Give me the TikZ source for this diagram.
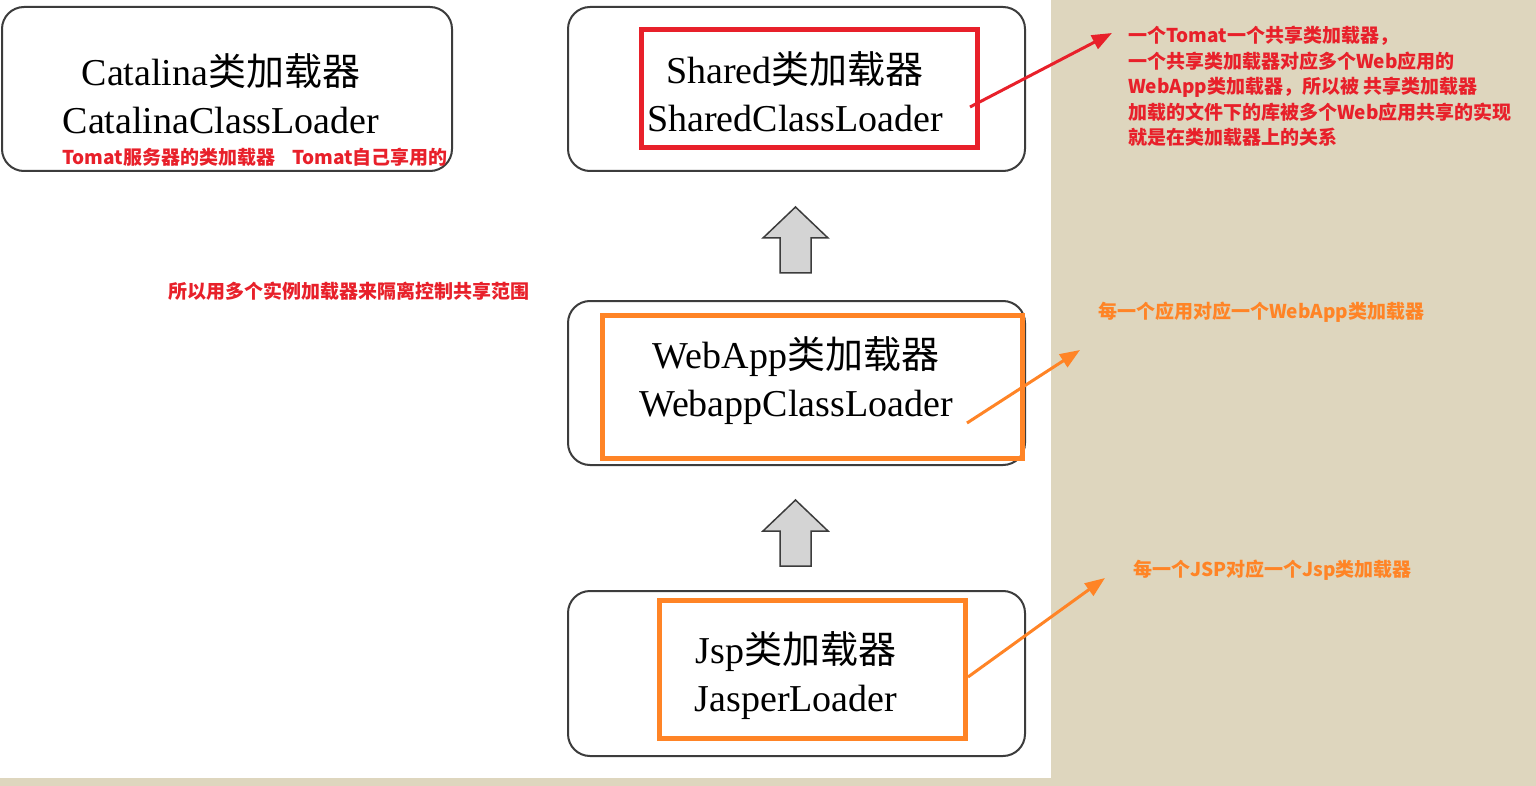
\documentclass[tikz,border=0pt]{standalone}
\usepackage{fontspec}
\setmainfont{Liberation Serif}
\newfontfamily\cjk{Noto Sans CJK SC}
\usetikzlibrary{arrows.meta}
\definecolor{beige}{HTML}{DED6BE}
\definecolor{annred}{HTML}{E8202A}
\definecolor{annorange}{HTML}{FF8426}
\definecolor{boxgray}{HTML}{3C3C3C}
\definecolor{arrowfill}{HTML}{D4D4D4}
\begin{document}
\begin{tikzpicture}[x=1pt,y=-1pt,
  graybox/.style={draw=boxgray, line width=2pt, rounded corners=22pt, fill=white, anchor=north west, inner sep=0pt},
  redframe/.style={draw=annred, line width=5pt, anchor=north west, inner sep=0pt},
  orangeframe/.style={draw=annorange, line width=5pt, anchor=north west, inner sep=0pt},
  mainlabel/.style={align=center, inner sep=0pt, font=\fontsize{38}{48}\selectfont},
  ann/.style={inner sep=0pt, font=\cjk\bfseries\fontsize{19}{25.5}\selectfont},
  blockarrow/.style={draw=boxgray, line width=1.5pt, fill=arrowfill, line join=miter},
  pointer/.style={line width=3pt, -{Triangle[length=20pt,width=15pt]}}
]
\useasboundingbox (0,0) rectangle (1536,786);
\fill[beige] (0,0) rectangle (1536,786);
\fill[white] (0,0) rectangle (1051,778);

% gray boxes
\node[graybox, minimum width=450pt, minimum height=164pt] (catalina) at (1,6) {};
\node[graybox, minimum width=457pt, minimum height=164pt] (shared) at (567,6) {};
\node[graybox, minimum width=457pt, minimum height=164pt] (webapp) at (567,300) {};
\node[graybox, minimum width=457pt, minimum height=165pt] (jsp) at (567,590) {};

% labels
\node[mainlabel] (catalinaT) at (221,94) {Catalina{\cjk 类加载器}\\CatalinaClassLoader};
\node[mainlabel] (sharedT) at (795,92) {Shared{\cjk 类加载器}\\SharedClassLoader};
\node[mainlabel] (webappT) at (796,381) {WebApp{\cjk 类加载器}\\WebappClassLoader};
\node[mainlabel] (jspT) at (796,676) {Jsp{\cjk 类加载器}\\JasperLoader};

% highlight frames
\node[redframe, minimum width=336pt, minimum height=118pt] (sharedFrame) at (639,27) {};
\node[orangeframe, minimum width=420pt, minimum height=143pt] (webappFrame) at (600,313) {};
\node[orangeframe, minimum width=306pt, minimum height=138pt] (jspFrame) at (657,598) {};

% block arrows
\draw[blockarrow] (795.5,207) -- (828,238) -- (811,238) -- (811,273) -- (780,273) -- (780,238) -- (763,238) -- cycle;
\draw[blockarrow] (795.5,500) -- (828,531) -- (811,531) -- (811,566) -- (780,566) -- (780,531) -- (763,531) -- cycle;

% annotations
\node[ann, text=annred, anchor=west] (tomatNote) at (62,157) {Tomat服务器的类加载器\hspace{0.9em}Tomat自己享用的};
\node[ann, text=annred, anchor=west] (scopeNote) at (168,291) {所以用多个实例加载器来隔离控制共享范围};
\node[ann, text=annred, anchor=north west, align=left] (sharedNote) at (1128,26) {一个Tomat一个共享类加载器，\\一个共享类加载器对应多个Web应用的\\WebApp类加载器，所以被 共享类加载器\\加载的文件下的库被多个Web应用共享的实现\\就是在类加载器上的关系};
\node[ann, text=annorange, anchor=west] (webappNote) at (1098,312) {每一个应用对应一个WebApp类加载器};
\node[ann, text=annorange, anchor=west] (jspNote) at (1133,570) {每一个JSP对应一个Jsp类加载器};

% pointers
\coordinate (p1s) at (970,107);
\coordinate (p1e) at (1112,33);
\coordinate (p2s) at (967,423);
\coordinate (p2e) at (1080,350);
\coordinate (p3s) at (968,677);
\coordinate (p3e) at (1105,578);
\draw[pointer, annred] (p1s) -- (p1e);
\draw[pointer, annorange] (p2s) -- (p2e);
\draw[pointer, annorange] (p3s) -- (p3e);
\end{tikzpicture}
\end{document}
